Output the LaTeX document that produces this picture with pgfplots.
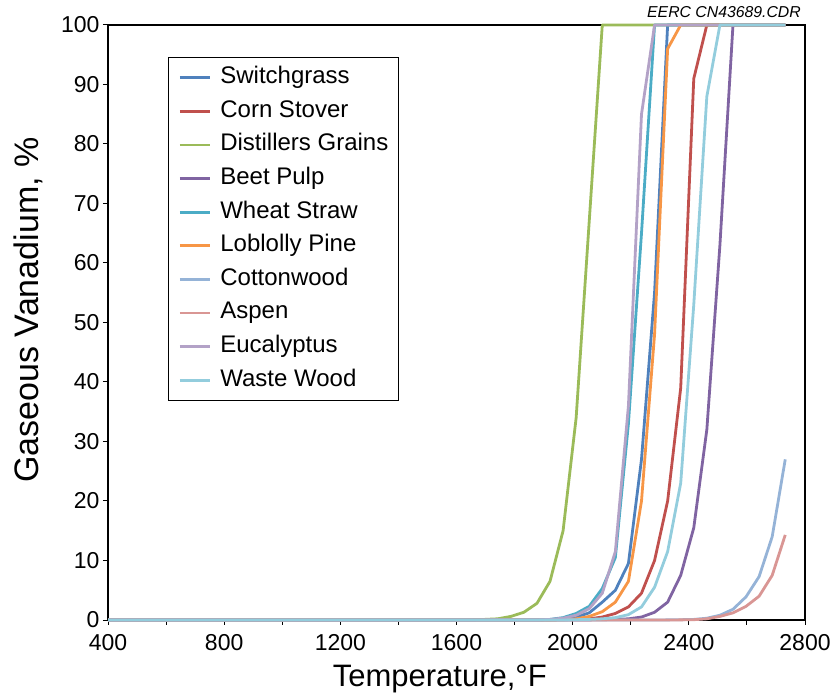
\documentclass[border=0pt]{standalone}
\usepackage{fontspec}
\setmainfont{Liberation Sans}
\usepackage{pgfplots}
\usepackage{pgfplotstable}
\pgfplotsset{compat=1.18}
\definecolor{cSG}{HTML}{4F81BD}
\definecolor{cCS}{HTML}{C0504D}
\definecolor{cDG}{HTML}{9BBB59}
\definecolor{cBP}{HTML}{8064A2}
\definecolor{cWS}{HTML}{4BACC6}
\definecolor{cLP}{HTML}{F79646}
\definecolor{cCW}{HTML}{95B3D7}
\definecolor{cAS}{HTML}{D99694}
\definecolor{cEU}{HTML}{B3A2C7}
\definecolor{cWW}{HTML}{93CDDD}
\pgfplotstableread{
T    SG   CS   DG   BP   WS   LP   CW   AS   EU   WW
400  0    0    0    0    0    0    0    0    0    0
1652 0    0    0.05 0    0    0    0    0    0    0
1697 0    0    0.1  0    0    0    0    0    0    0
1742 0    0    0.2  0    0    0    0    0    0    0
1787 0    0    0.6  0    0    0    0    0    0    0
1832 0    0    1.3  0    0    0    0    0    0    0
1877 0    0    2.8  0    0.05 0    0    0    0    0
1922 0.05 0    6.5  0    0.1  0    0    0    0.1  0
1967 0.2  0.05 15   0    0.4  0.05 0    0    0.3  0
2012 0.5  0.1  34   0    1.1  0.2  0    0    0.8  0.05
2057 1.2  0.2  67   0.02 2.3  0.6  0    0    1.9  0.1
2102 3    0.5  100  0.05 5.3  1.4  0    0    4.5  0.2
2147 5    1.1  100  0.1  10.5 3    0    0    11.5 0.4
2192 9.5  2.2  100  0.2  33   6.5  0    0    36   0.9
2237 27   4.5  100  0.5  65   20   0    0    85   2.2
2282 55   10   100  1.3  100  48   0    0    100  5.5
2327 100  20   100  3    100  96   0.02 0    100  11.5
2372 100  39   100  7.5  100  100  0.05 0.02 100  23
2417 100  91   100  15.5 100  100  0.1  0.05 100  53
2462 100  100  100  32   100  100  0.3  0.2  100  88
2507 100  100  100  63   100  100  0.8  0.6  100  100
2552 100  100  100  100  100  100  1.8  1.2  100  100
2597 100  100  100  100  100  100  3.9  2.3  100  100
2642 100  100  100  100  100  100  7.3  4    100  100
2687 100  100  100  100  100  100  14   7.5  100  100
2732 100  100  100  100  100  100  27   14.3 100  100
}\data
\begin{document}
\begin{tikzpicture}
\useasboundingbox (0,0) rectangle (834bp,698bp);
\begin{axis}[
  at={(108bp,78bp)}, anchor=south west,
  width=697bp, height=595bp, scale only axis,
  xmin=400, xmax=2800, ymin=0, ymax=100,
  xtick={400,800,...,2800},
  minor xtick={600,1000,...,2600},
  ytick={0,10,...,100},
  tick align=outside, tick pos=left,
  major tick length=5bp, minor tick length=5bp,
  every tick/.style={black, line width=1bp},
  axis line style={black, line width=1.5bp},
  /pgf/number format/assume math mode=true,
  /pgf/number format/1000 sep={},
  ticklabel style={font=\fontsize{23bp}{27bp}\selectfont},
  xticklabel style={yshift=-6bp},
  xlabel={Temperature,°F},
  ylabel={Gaseous Vanadium, \%},
  xlabel style={font=\fontsize{31bp}{36bp}\selectfont, at={(axis description cs:0.476,-0.1126)}, anchor=base},
  ylabel style={font=\fontsize{34bp}{38bp}\selectfont, at={(axis description cs:-0.114,0.521)}, anchor=center},
  clip=false,
  legend style={at={(0.086,0.946)}, anchor=north west, draw=black, line width=1.2bp,
    font=\fontsize{24bp}{28bp}\selectfont, inner xsep=10bp, inner ysep=9bp,
    row sep=11.6bp, nodes={inner xsep=0bp, inner ysep=0bp, text height=17bp, text depth=5bp}},
  legend cell align=left,
  legend image code/.code={\draw[#1, line width=2.8bp] (4bp,0bp) -- (34bp,0bp); \path (43bp,0bp);},
  every axis plot/.append style={line width=2.8bp, line join=round},
]
\draw[black, line width=2.5bp] (rel axis cs:0,1) -- (rel axis cs:1,1) -- (rel axis cs:1,0);
\addplot[cSG] table[x=T,y=SG]{\data};
\addlegendentry{Switchgrass}
\addplot[cCS] table[x=T,y=CS]{\data};
\addlegendentry{Corn Stover}
\addplot[cDG] table[x=T,y=DG]{\data};
\addlegendentry{Distillers Grains}
\addplot[cBP] table[x=T,y=BP]{\data};
\addlegendentry{Beet Pulp}
\addplot[cWS] table[x=T,y=WS]{\data};
\addlegendentry{Wheat Straw}
\addplot[cLP] table[x=T,y=LP]{\data};
\addlegendentry{Loblolly Pine}
\addplot[cCW] table[x=T,y=CW]{\data};
\addlegendentry{Cottonwood}
\addplot[cAS] table[x=T,y=AS]{\data};
\addlegendentry{Aspen}
\addplot[cEU] table[x=T,y=EU]{\data};
\addlegendentry{Eucalyptus}
\addplot[cWW] table[x=T,y=WW]{\data};
\addlegendentry{Waste Wood}
\end{axis}
\node[font=\fontsize{15.8bp}{18bp}\selectfont\itshape, anchor=base] at (724bp,680bp) {EERC CN43689.CDR};
\end{tikzpicture}
\end{document}
